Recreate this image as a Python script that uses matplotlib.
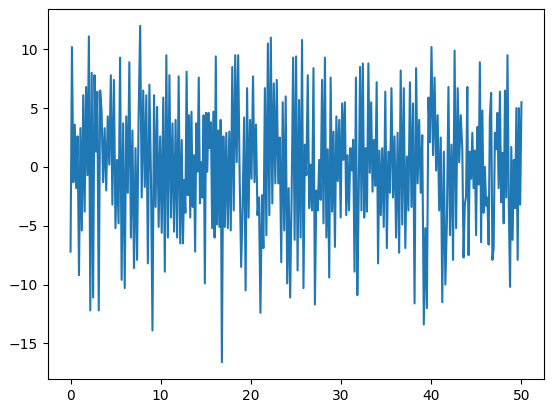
import numpy as np
import matplotlib
matplotlib.use("Agg")
import matplotlib.pyplot as plt

# segment boundaries along x (data range 0..50)
seg_bounds = [0, 3.44, 7.89, 12.33, 16.78, 21.22, 25.67, 30.11, 34.56, 39.0, 43.44, 47.89, 50.0]

seg1 = [-7.2, 10.2, -1.3, 3.6, -1.8, 2.6, -9.2, 3.3, -5.4, 6.1, -3.8, 6.8, -0.7, 11.1, -12.2, 8.0,
        -11.1, 7.8, 1.3, 6.4, -12.2, 6.5]
seg2 = [4.8, -1.3, 3.3, -2.0, 4.3, 0.2, 7.8, -3.2, 7.4, -5.2, 0.6, -4.8, 9.3, -9.6, 3.7, -10.3,
        4.3, -2.2, 8.9, -6.0, 3.1, -8.6, 1.6, -7.9, 4.2, 12.0]
seg3 = [-2.6, 6.5, -1.7, 6.1, -8.2, 7.0, -0.7, -13.9, 6.1, -3.4, 5.1, -5.1, 2.6, -5.6, 5.9, -8.9,
        9.5, -6.0, 7.8, -4.3, 3.7, -5.5, 4.0, -6.0, 7.7, -6.5]
seg4 = [2.3, -6.5, -1.1, -3.9, 8.1, -2.4, 4.4, -4.3, 4.7, -3.4, 1.0, -7.2, 3.7, -0.4, 7.6, -3.1,
        0.4, -2.6, 4.4, -9.9, 4.6, -0.4, 4.6, 1.6, 3.8, -5.2, 4.7, -6.0, 9.4, -4.9, 3.1, -5.1, 4.0]
seg5 = [-16.6, 2.6, -5.1, 2.9, -5.2, 3.0, -5.4, 8.5, -3.7, 9.5, 0.4, 9.5, -0.9, -8.5, -3.4, 4.2,
        -10.5, 6.7, -4.3, 4.0, -1.0, 7.7, -1.3, 3.6, -4.1, -2.6, -12.4]
seg6 = [-2.4, -6.9, 6.7, -5.8, 10.5, -4.1, 11.0, -3.1, 7.1, -1.4, 7.4, -1.4, 2.5, -8.1, 5.5, -5.4,
        6.0, -9.9, -1.8, -11.1, -2.4, 9.3, -6.2, 9.4, -8.8, 5.7, -6.0]
seg7 = [10.8, -10.3, 1.9, -0.7, 7.8, -3.5, 0.2, -3.7, 8.4, -11.7, -2.0, -3.7, 0.6, -2.8, 7.4, -4.8,
        9.3, -6.0, 1.5, -9.4, 7.6, -3.8, 3.0, -6.8, 4.3, -1.2, 4.0, -4.3]
seg8 = [5.4, 0.6, 5.5, -4.1, 1.0, -3.7, 1.6, -0.3, 2.3, -8.9, 7.6, -10.9, -2.6, 8.5, -3.7, 8.8,
        -4.3, 1.6, -3.8, 8.8, -0.5, 5.5, -2.1, 2.3, -1.6, 7.2, -8.2, 1.4, -4.1]
seg9 = [1.6, -5.1, 6.4, -6.9, 1.3, -2.2, 6.7, -2.6, 2.6, -6.0, 2.9, -7.3, 8.2, -4.9, 6.7, -6.9,
        0.9, -3.7, 7.2, -3.4, 5.4, -11.6, 8.4, -1.4, 4.0, -2.2]
seg10 = [2.7, -13.4, -5.2, -12.0, 5.9, 2.1, 10.2, 1.0, 7.6, -0.3, 4.4, -3.7, 2.5, -11.5, 1.3, -10.0,
         -4.7, 6.8, -5.8, 1.9, -7.9, 9.9, -5.2, 6.7, 0.4, 4.4]
seg11 = [1.6, -7.7, -3.2, -2.5, 6.8, -7.5, 1.3, -1.0, 2.9, -1.8, 1.4, -5.8, 3.4, -1.5, 8.9, -6.4,
         4.8, -3.9, 0.0, -3.3, -2.6, -6.6, 4.2, 6.3, -7.9, -6.9, 2.9, 1.5, 4.6, -1.8, 6.4, -3.0]
seg12 = [1.2, -4.8, 6.5, -2.6, 9.5, -3.2, -10.2, 1.7, -6.2, 0.6, -3.5, 5.0, -7.9, 5.0, -3.2, 5.5]

segments = [seg1, seg2, seg3, seg4, seg5, seg6, seg7, seg8, seg9, seg10, seg11, seg12]

xs, ys = [], []
for i, seg in enumerate(segments):
    last = (i == len(segments) - 1)
    xs.append(np.linspace(seg_bounds[i], seg_bounds[i + 1], len(seg), endpoint=last))
    ys.append(np.array(seg))
x = np.concatenate(xs)
y = np.concatenate(ys)

fig = plt.figure(figsize=(5.54, 4.13), dpi=100)
ax = fig.add_axes([48 / 554, 34 / 413, 496 / 554, 370 / 413])
ax.plot(x, y, color="#1f77b4", linewidth=1.5)
ax.set_xticks([0, 10, 20, 30, 40, 50])
ax.set_yticks([-15, -10, -5, 0, 5, 10])
fig.savefig("out.png", dpi=100)
